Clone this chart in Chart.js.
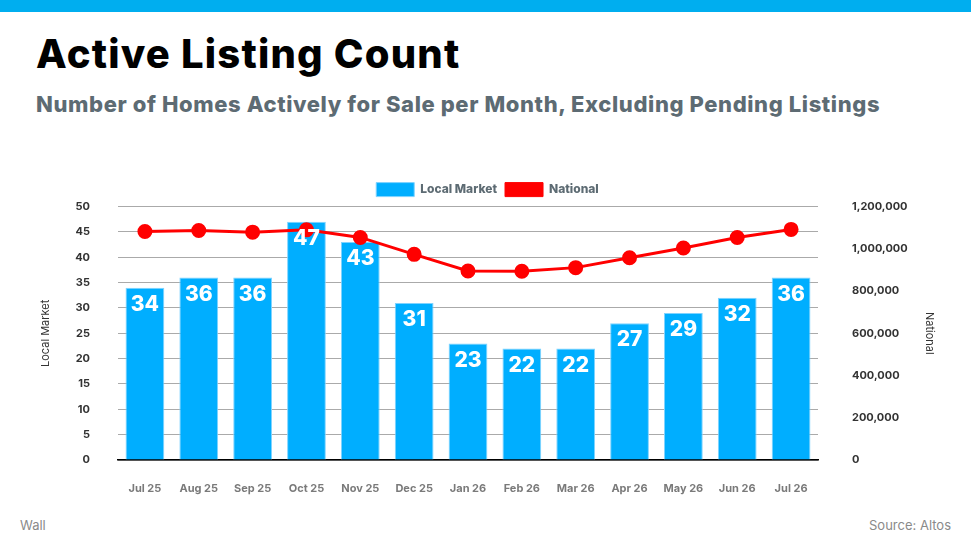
<!DOCTYPE html>
<html>
<head>
<meta charset="utf-8">
<script src="https://cdn.jsdelivr.net/npm/chart.js@4.4.1/dist/chart.umd.min.js"></script>
<style>
  body { margin: 0; width: 971px; height: 546px; background: #fff; font-family: Inter, "Open Sans", sans-serif; overflow: hidden; position: relative; }
  .topbar { position: absolute; left: 0; top: 0; width: 971px; height: 12px; background: #00aeef; }
  h1 { position: absolute; left: 36px; top: 29px; margin: 0; font-size: 40px; font-weight: 800; color: #000; letter-spacing: 1.2px; }
  h2 { position: absolute; left: 36px; top: 91px; margin: 0; font-size: 22px; font-weight: 800; color: #5d6b73; letter-spacing: 0.6px; }
  .foot { position: absolute; top: 517px; font-size: 13px; color: #8a8a8a; }
  #wrap { position: absolute; left: 0; top: 172px; width: 971px; height: 328px; }
</style>
</head>
<body>
<div class="topbar"></div>
<h1>Active Listing Count</h1>
<h2>Number of Homes Actively for Sale per Month, Excluding Pending Listings</h2>
<div id="wrap"><canvas id="myChart"></canvas></div>
<div class="foot" style="left:20px">Wall</div>
<div class="foot" style="right:20px">Source: Altos</div>
<script>
var months = ["Jul 25", "Aug 25", "Sep 25", "Oct 25", "Nov 25", "Dec 25", "Jan 26", "Feb 26", "Mar 26", "Apr 26", "May 26", "Jun 26", "Jul 26"];
var localMarket = [34, 36, 36, 47, 43, 31, 23, 22, 22, 27, 29, 32, 36];
var national = [1082000, 1087000, 1079000, 1090000, 1054000, 974000, 895000, 894000, 911000, 958000, 1004000, 1054000, 1092000];

// white numbers inside the top of each bar
var barLabels = {
  id: 'barLabels',
  afterDatasetsDraw: function(chart) {
    var ctx = chart.ctx;
    var meta = chart.getDatasetMeta(0);
    ctx.save();
    ctx.fillStyle = '#fff';
    ctx.font = '800 21px Inter, "Open Sans", sans-serif';
    ctx.textAlign = 'center';
    ctx.textBaseline = 'middle';
    meta.data.forEach(function(bar, i) {
      ctx.fillText(localMarket[i], bar.x, bar.y + 17);
    });
    ctx.restore();
  }
};

var ctx = document.getElementById("myChart").getContext('2d');
var myChart = new Chart(ctx, {
  type: 'bar',
  data: {
    labels: months,
    datasets: [{
      label: 'Local Market',
      data: localMarket,
      backgroundColor: '#00aeff',
      borderColor: '#7fd3ff',
      borderWidth: 1,
      yAxisID: 'y',
      order: 2
    }, {
      type: 'line',
      label: 'National',
      data: national,
      borderColor: '#ff0000',
      backgroundColor: '#ff0000',
      borderWidth: 3,
      pointRadius: 6,
      pointHoverRadius: 6,
      tension: 0,
      yAxisID: 'y1',
      order: 1
    }]
  },
  options: {
    responsive: true,
    maintainAspectRatio: false,
    animation: false,
    layout: { padding: { left: 35, right: 31, top: 1, bottom: 0 } },
    plugins: {
      tooltip: { enabled: false },
      legend: {
        position: 'top',
        labels: {
          boxWidth: 38,
          boxHeight: 14,
          padding: 8,
          color: '#5d6b73',
          font: { family: 'Inter, "Open Sans", sans-serif', size: 12, weight: '800' },
          generateLabels: function(chart) {
            return chart.data.datasets.map(function(ds, i) {
              return {
                text: ds.label,
                fillStyle: ds.backgroundColor,
                strokeStyle: ds.borderColor,
                lineWidth: 1,
                fontColor: '#5d6b73',
                datasetIndex: i
              };
            });
          }
        },
        afterFit: function(legend) { legend.height = 25; }
      }
    },
    scales: {
      x: {
        grid: { display: false },
        border: { color: '#000', width: 1.5 },
        ticks: {
          color: '#7a7a7a',
          padding: 14,
          font: { family: 'Inter, "Open Sans", sans-serif', size: 11, weight: 'bold' }
        },
        afterFit: function(scale) { scale.height = 40; }
      },
      y: {
        position: 'left',
        min: 0,
        max: 50,
        ticks: {
          stepSize: 5,
          color: '#333',
          padding: 28,
          font: { family: 'Inter, "Open Sans", sans-serif', size: 11, weight: 'bold' }
        },
        grid: { color: '#aaaaaa', drawTicks: false },
        border: { display: false },
        title: {
          display: true,
          text: 'Local Market',
          color: '#333',
          font: { family: 'Inter, "Open Sans", sans-serif', size: 11 }
        },
        afterFit: function(scale) { scale.width = 83; }
      },
      y1: {
        position: 'right',
        min: 0,
        max: 1200000,
        ticks: {
          stepSize: 200000,
          color: '#333',
          padding: 26,
          font: { family: 'Inter, "Open Sans", sans-serif', size: 11, weight: 'bold' },
          callback: function(v) { return v.toLocaleString('en-US'); }
        },
        grid: { display: false },
        border: { display: false },
        title: {
          display: true,
          text: 'National',
          color: '#333',
          font: { family: 'Inter, "Open Sans", sans-serif', size: 11 }
        },
        afterFit: function(scale) { scale.width = 122; }
      }
    }
  },
  plugins: [barLabels]
});
</script>
</body>
</html>
